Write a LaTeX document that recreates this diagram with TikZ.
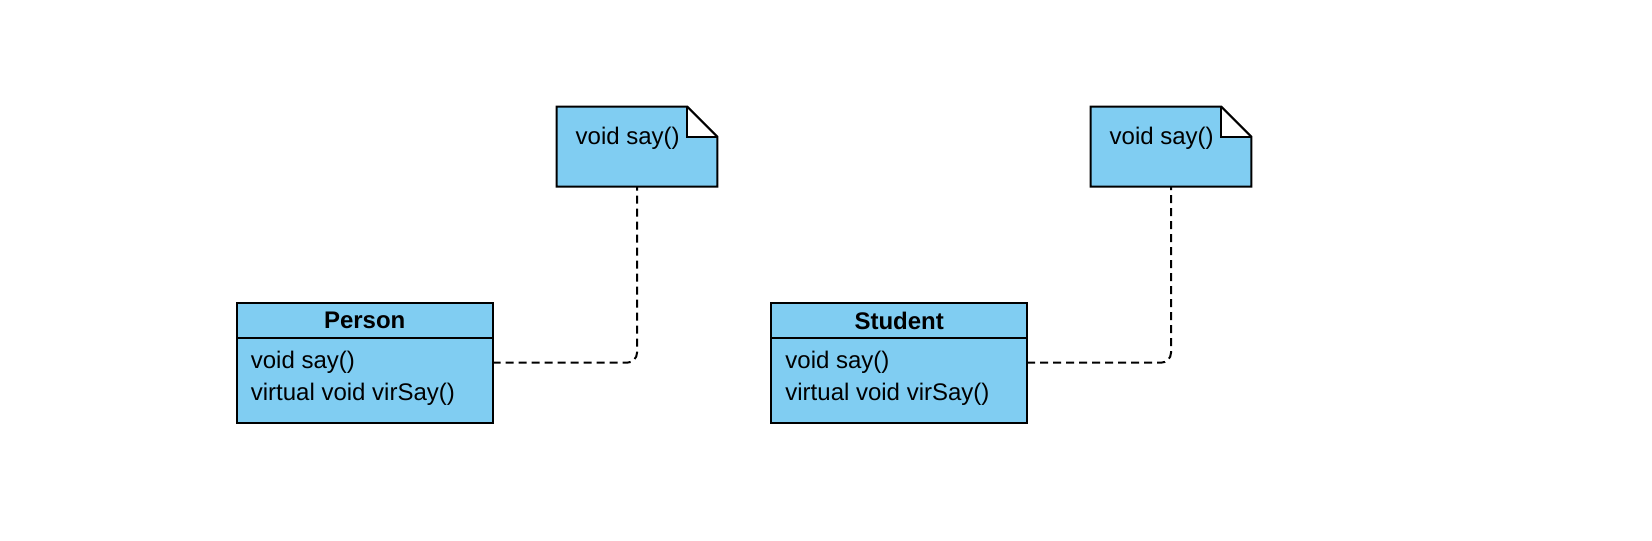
\documentclass[tikz,border=0pt]{standalone}
\usepackage{fontspec}
\setmainfont{Liberation Sans}
\usetikzlibrary{positioning}
\definecolor{umlblue}{RGB}{128,205,242}

\begin{document}
\begin{tikzpicture}[x=0.5pt, y=-0.5pt, line width=1pt, font=\fontsize{12}{16}\selectfont,
    classbox/.style={draw, fill=umlblue, minimum width=128pt, minimum height=60pt, inner sep=0pt, outer sep=0pt},
    classname/.style={draw, fill=umlblue, minimum width=128pt, minimum height=17.8pt, inner sep=0pt, outer sep=0pt, font=\fontsize{12}{16}\selectfont\bfseries},
    classops/.style={align=left, inner xsep=6.6pt, inner ysep=6pt},
    notebox/.style={minimum width=80.3pt, minimum height=40pt, inner sep=0pt, outer sep=0pt},
    notetext/.style={inner xsep=9pt, inner ysep=9.5pt},
    link/.style={dash pattern=on 4pt off 2.5pt, rounded corners=5pt}]
    \useasboundingbox (0,0) rectangle (1652,540);

    % Person class with its note
    \node[classbox] (person) at (364.7,362.7) {};
    \node[classname, anchor=north] (personname) at (person.north) {Person};
    \node[classops, anchor=north west] (personops) at (personname.south west) {void say()\\virtual void virSay()};

    \node[notebox] (note1) at (637,146.7) {};
    \fill[umlblue] (note1.north west) -- ([xshift=-15pt]note1.north east) -- ([yshift=-15pt]note1.north east) -- (note1.south east) -- (note1.south west) -- cycle;
    \fill[white] ([xshift=-15pt]note1.north east) |- ([yshift=-15pt]note1.north east) -- cycle;
    \draw (note1.north west) -- ([xshift=-15pt]note1.north east) -- ([yshift=-15pt]note1.north east) -- (note1.south east) -- (note1.south west) -- cycle;
    \draw ([xshift=-15pt]note1.north east) |- ([yshift=-15pt]note1.north east);
    \node[notetext, anchor=north west] (note1text) at (note1.north west) {void say()};

    % Student class with its note
    \node[classbox] (student) at (899.2,362.7) {};
    \node[classname, anchor=north] (studentname) at (student.north) {Student};
    \node[classops, anchor=north west] (studentops) at (studentname.south west) {void say()\\virtual void virSay()};

    \node[notebox] (note2) at (1171,146.7) {};
    \fill[umlblue] (note2.north west) -- ([xshift=-15pt]note2.north east) -- ([yshift=-15pt]note2.north east) -- (note2.south east) -- (note2.south west) -- cycle;
    \fill[white] ([xshift=-15pt]note2.north east) |- ([yshift=-15pt]note2.north east) -- cycle;
    \draw (note2.north west) -- ([xshift=-15pt]note2.north east) -- ([yshift=-15pt]note2.north east) -- (note2.south east) -- (note2.south west) -- cycle;
    \draw ([xshift=-15pt]note2.north east) |- ([yshift=-15pt]note2.north east);
    \node[notetext, anchor=north west] (note2text) at (note2.north west) {void say()};

    % dashed note links
    \draw[link] (person.east) -| (note1.south);
    \draw[link] (student.east) -| (note2.south);
\end{tikzpicture}
\end{document}
